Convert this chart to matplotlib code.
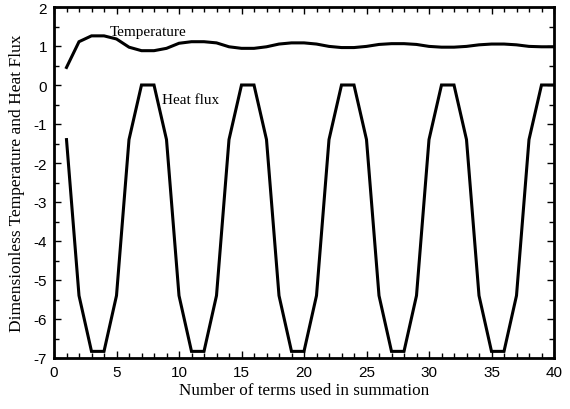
import matplotlib
matplotlib.use("Agg")
import matplotlib.pyplot as plt
from matplotlib.ticker import MultipleLocator

terms = list(range(1, 41))
temperature = [0.45, 1.11, 1.26, 1.26, 1.18, 0.97, 0.88, 0.88, 0.94, 1.07,
               1.11, 1.11, 1.08, 0.98, 0.94, 0.94, 0.98, 1.05, 1.08, 1.08,
               1.05, 0.99, 0.96, 0.96, 0.99, 1.04, 1.06, 1.06, 1.04, 0.99,
               0.97, 0.97, 0.99, 1.03, 1.05, 1.05, 1.03, 0.99, 0.98, 0.98]
heat_flux = [-1.4, -5.4, -6.83, -6.83, -5.4, -1.4, 0.0, 0.0,
             -1.4, -5.4, -6.83, -6.83, -5.4, -1.4, 0.0, 0.0,
             -1.4, -5.4, -6.83, -6.83, -5.4, -1.4, 0.0, 0.0,
             -1.4, -5.4, -6.83, -6.83, -5.4, -1.4, 0.0, 0.0,
             -1.4, -5.4, -6.83, -6.83, -5.4, -1.4, 0.0, 0.0]

plt.rcParams["axes.unicode_minus"] = False
serif = ["Liberation Serif", "DejaVu Serif"]
sans = ["Liberation Sans", "DejaVu Sans"]

fig = plt.figure(figsize=(5.7, 4.1), dpi=100)
ax = fig.add_axes([54/570, 1 - 359/410, 500/570, 351/410])

ax.plot(terms, temperature, color="black", lw=2.2, solid_joinstyle="miter")
ax.plot(terms, heat_flux, color="black", lw=2.2, solid_joinstyle="miter")

ax.set_xlim(0, 40)
ax.set_ylim(-7, 2)
ax.xaxis.set_major_locator(MultipleLocator(5))
ax.xaxis.set_minor_locator(MultipleLocator(1))
ax.yaxis.set_major_locator(MultipleLocator(1))
ax.yaxis.set_minor_locator(MultipleLocator(0.5))
ax.tick_params(which="both", direction="in", top=True, right=True, width=1, color="black")
ax.tick_params(which="major", length=5, labelsize=11, pad=5)
ax.tick_params(which="minor", length=3.5)
for lab in ax.get_xticklabels() + ax.get_yticklabels():
    lab.set_family(sans)
for s in ax.spines.values():
    s.set_linewidth(2)

ax.set_xlabel("Number of terms used in summation", family=serif, fontsize=12.3, labelpad=2)
ax.set_ylabel("Dimensionless Temperature and Heat Flux", family=serif, fontsize=12.5, labelpad=6)

ax.text(4.45, 1.38, "Temperature", family=serif, fontsize=11, va="center", ha="left")
ax.text(8.6, -0.38, "Heat flux", family=serif, fontsize=11, va="center", ha="left")

fig.savefig("out.png", dpi=100)
